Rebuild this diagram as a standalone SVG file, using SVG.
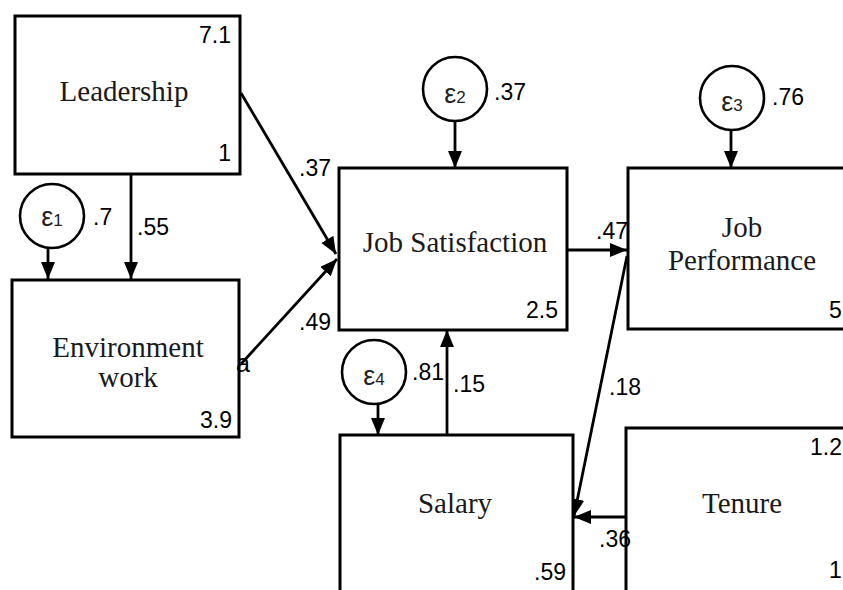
<svg xmlns="http://www.w3.org/2000/svg" width="843" height="590" viewBox="0 0 843 590">
<style>
.box{fill:#fff;stroke:#000;stroke-width:3}
.err{fill:#fff;stroke:#000;stroke-width:2.6}
.lbl{font-family:"Liberation Serif","Times New Roman",serif;font-size:29px;fill:#1a1a1a;text-anchor:middle}
.num{font-family:"Liberation Sans",Arial,sans-serif;font-size:23px;fill:#000}
.end{text-anchor:end}
.eps{font-family:"Liberation Sans",Arial,sans-serif;font-size:27px;fill:#222;text-anchor:middle}
.sub{font-size:17px}
.arr{stroke:#000;stroke-width:2.8;fill:none;marker-end:url(#ah)}
</style>
<defs>
<marker id="ah" markerUnits="userSpaceOnUse" markerWidth="18" markerHeight="15" refX="17" refY="7" orient="auto">
<path d="M0,0 L17,7 L0,14 z" fill="#000"/>
</marker>
</defs>
<rect width="843" height="590" fill="#fff"/>

<g id="connectors">
<line class="arr" x1="131" y1="174" x2="131" y2="279"/>
<line class="arr" x1="48" y1="248" x2="48" y2="279"/>
<line class="arr" x1="241" y1="93" x2="336" y2="254"/>
<line class="arr" x1="241" y1="364" x2="337" y2="259"/>
<line class="arr" x1="455" y1="122" x2="455" y2="168"/>
<line class="arr" x1="567" y1="250" x2="627" y2="250"/>
<line class="arr" x1="731" y1="130" x2="731" y2="168"/>
<line class="arr" x1="627" y1="256" x2="574" y2="516"/>
<line class="arr" x1="626" y1="517" x2="574" y2="517"/>
<line class="arr" x1="378" y1="404" x2="378" y2="435"/>
<line class="arr" x1="447" y1="435" x2="447" y2="330"/>
</g>

<g id="leadership">
<rect class="box" x="15" y="16" width="225" height="158"/>
<text class="lbl" x="124" y="101">Leadership</text>
<text class="num end" x="231" y="43">7.1</text>
<text class="num end" x="231" y="161">1</text>
</g>

<g id="environment">
<rect class="box" x="12" y="280" width="227" height="157"/>
<text class="lbl" x="128" y="357">Environment</text>
<text class="lbl" x="128" y="387">work</text>
<text class="num end" x="232" y="428">3.9</text>
</g>

<g id="e1">
<circle class="err" cx="52" cy="216" r="32"/>
<text class="eps" x="52" y="226">ε<tspan class="sub">1</tspan></text>
</g>

<g id="jobsat">
<rect class="box" x="339" y="168" width="228" height="162"/>
<text class="lbl" x="455" y="252">Job Satisfaction</text>
<text class="num end" x="558" y="318">2.5</text>
</g>

<g id="e2">
<circle class="err" cx="455" cy="89" r="32"/>
<text class="eps" x="455" y="103">ε<tspan class="sub">2</tspan></text>
</g>

<g id="jobperf">
<rect class="box" x="628" y="168" width="232" height="161"/>
<text class="lbl" x="742" y="237">Job</text>
<text class="lbl" x="742" y="270">Performance</text>
<text class="num" x="829" y="318">5</text>
</g>

<g id="e3">
<circle class="err" cx="732" cy="98" r="32"/>
<text class="eps" x="732" y="111">ε<tspan class="sub">3</tspan></text>
</g>

<g id="salary">
<rect class="box" x="340" y="435" width="233" height="170"/>
<text class="lbl" x="455" y="513">Salary</text>
<text class="num end" x="566" y="580">.59</text>
</g>

<g id="e4">
<circle class="err" cx="374" cy="372" r="32"/>
<text class="eps" x="374" y="385">ε<tspan class="sub">4</tspan></text>
</g>

<g id="tenure">
<rect class="box" x="626" y="428" width="234" height="172"/>
<text class="lbl" x="742" y="513">Tenure</text>
<text class="num" x="810" y="455">1.2</text>
<text class="num" x="829" y="578">1</text>
</g>

<g id="labels">
<text class="num" x="93" y="225">.7</text>
<text class="num" x="137" y="235">.55</text>
<text class="num" x="236" y="372" style="font-size:25px">a</text>
<text class="num" x="299" y="176">.37</text>
<text class="num" x="299" y="330">.49</text>
<text class="num" x="494" y="100">.37</text>
<text class="num" x="772" y="105">.76</text>
<text class="num" x="596" y="239">.47</text>
<text class="num" x="609" y="395">.18</text>
<text class="num" x="412" y="380">.81</text>
<text class="num" x="453" y="392">.15</text>
<text class="num" x="599" y="547">.36</text>
</g>
</svg>
